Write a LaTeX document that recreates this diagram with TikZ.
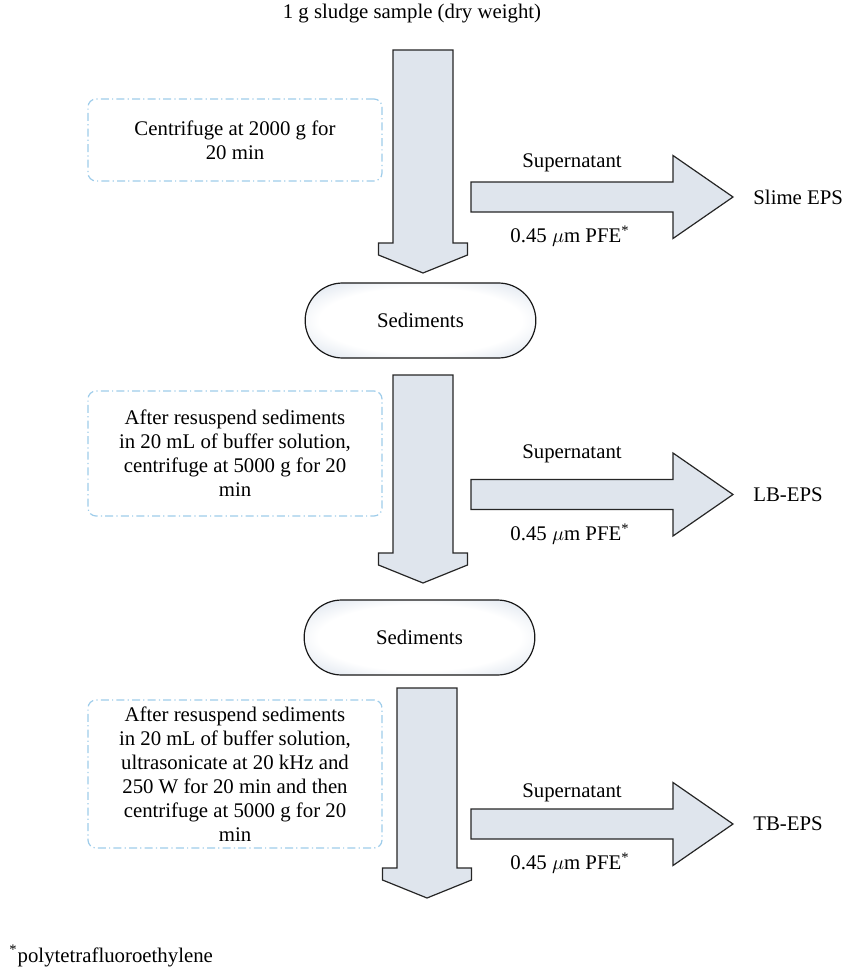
\documentclass[tikz,border=0pt]{standalone}
\usepackage{fontspec}
\setmainfont{Liberation Serif}
\usetikzlibrary{positioning, shapes.misc}
\definecolor{blockfill}{RGB}{223,229,237}
\definecolor{noteline}{RGB}{158,204,234}
\definecolor{sedfill}{RGB}{208,218,231}
\pgfdeclareradialshading{sedshade}{\pgfpoint{0bp}{0bp}}{%
  color(0bp)=(white); color(22bp)=(white); color(38bp)=(sedfill); color(50bp)=(sedfill)}
\newcommand{\flowfont}{\fontsize{10.4}{12}\selectfont}
\tikzset{
    block/.style={draw=black!85, fill=blockfill, line width=0.6pt, line join=miter},
    stepbox/.style={draw=noteline, rounded corners=4pt, line width=0.6pt,
      dash pattern=on 4pt off 1.6pt on 0.6pt off 1.6pt,
      minimum width=147pt, align=center, font=\flowfont},
    sediment/.style={rounded rectangle, draw=black!90, line width=0.6pt,
      shading=sedshade, minimum width=122pt,
      minimum height=37.5pt, font=\flowfont},
    lbl/.style={font=\flowfont, inner sep=0pt},
    downblock/.pic = {
    \path[block] (-30,0) -- (-30,#1) -- (-44.5,#1) -- (-44.5,{#1+12})
      -- (0,{#1+30}) -- (44.5,{#1+12}) -- (44.5,#1) -- (30,#1) -- (30,0) -- cycle;
    },
    rightblock/.pic = {
    \path[block] (0,-15) -- (202,-15) -- (202,-41.5) -- (262,0)
      -- (202,41.5) -- (202,15) -- (0,15) -- cycle;
    },
}

\begin{document}
\begin{tikzpicture}[x=0.5pt, y=-0.5pt]
    \useasboundingbox (0,0) rectangle (841,974);

    \node[lbl] (sample) at (412,14) {1 g sludge sample (dry weight)};

    % first centrifugation
    \coordinate (d1) at (423,50);
    \path (d1) pic {downblock=193};
    \node[stepbox, minimum height=41pt] (step1) at (235,140)
      {Centrifuge at 2000 g for\\20 min};
    \coordinate (r1) at (471,197);
    \coordinate (t1) at (733,197);
    \path (r1) pic {rightblock};
    \node[lbl] (sup1) at (572,163) {Supernatant};
    \node[lbl] (filt1) at (570,236) {0.45 $\mu$m PFE\textsuperscript{*}};
    \node[lbl, right=10pt of t1] (eps1) {Slime EPS};

    \node[sediment] (sed1) at (420.5,320.5) {Sediments};

    % second centrifugation
    \coordinate (d2) at (423,375);
    \path (d2) pic {downblock=178};
    \node[stepbox, minimum height=62.5pt] (step2) at (235,453.5)
      {After resuspend sediments\\in 20 mL of buffer solution,\\centrifuge at 5000 g for 20\\min};
    \coordinate (r2) at (471,494.5);
    \coordinate (t2) at (733,494.5);
    \path (r2) pic {rightblock};
    \node[lbl] (sup2) at (572,454) {Supernatant};
    \node[lbl] (filt2) at (570,534) {0.45 $\mu$m PFE\textsuperscript{*}};
    \node[lbl, right=10pt of t2] (eps2) {LB-EPS};

    \node[sediment] (sed2) at (419.5,637.5) {Sediments};

    % third centrifugation
    \coordinate (d3) at (427,688);
    \path (d3) pic {downblock=180};
    \node[stepbox, minimum height=74pt] (step3) at (235,774)
      {After resuspend sediments\\in 20 mL of buffer solution,\\ultrasonicate at 20 kHz and\\250 W for 20 min and then\\centrifuge at 5000 g for 20\\min};
    \coordinate (r3) at (471,824);
    \coordinate (t3) at (733,824);
    \path (r3) pic {rightblock};
    \node[lbl] (sup3) at (572,793) {Supernatant};
    \node[lbl] (filt3) at (570,863) {0.45 $\mu$m PFE\textsuperscript{*}};
    \node[lbl, right=10pt of t3] (eps3) {TB-EPS};

    \node[lbl, anchor=west] (note) at (9,956) {\textsuperscript{*}polytetrafluoroethylene};
\end{tikzpicture}
\end{document}
